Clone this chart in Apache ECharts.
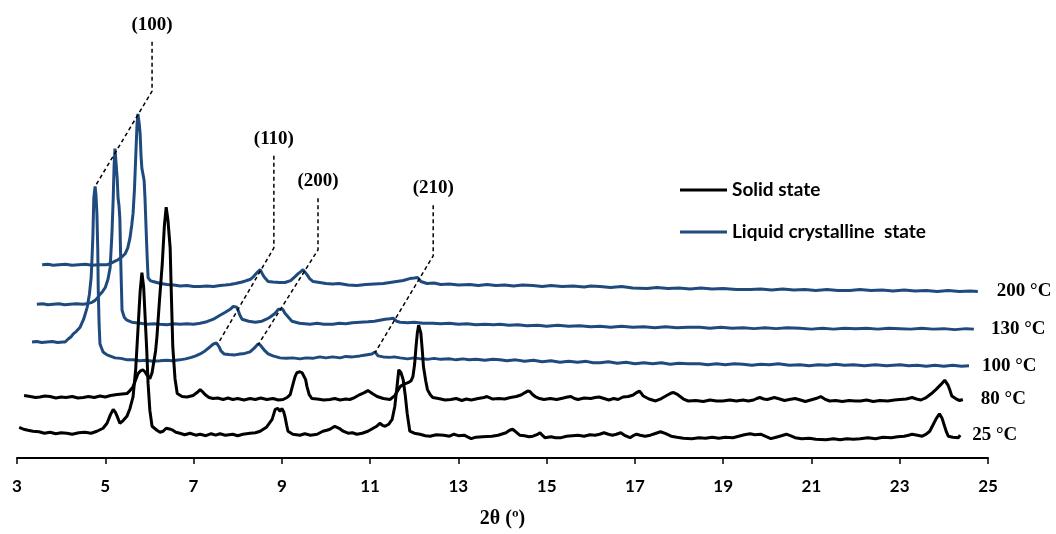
<!DOCTYPE html>
<html>
<head>
<meta charset="utf-8">
<script src="https://cdn.jsdelivr.net/npm/echarts@6/dist/echarts.min.js"></script>
<style>
html,body{margin:0;padding:0;background:#fff;}
#chart{width:1056px;height:534px;}
</style>
</head>
<body>
<div id="chart"></div>
<script>
// 2θ (deg) vs stacked intensity (a.u.)
const xTicks = [3,5,7,9,11,13,15,17,19,21,23,25];
const seriesNames = ['Solid state','Liquid crystalline  state'];
const tempLabels = ['25 °C','80 °C','100 °C','130 °C','200 °C'];

const d25 = [[3.05,31],[3.15,29],[3.25,28],[3.36,27],[3.5,26.5],[3.62,25],[3.75,26],[3.88,24.5],[4.0,25.5],[4.13,25],[4.25,24],[4.4,25.5],[4.54,26],[4.68,25],[4.81,27],[4.95,30],[5.04,35],[5.12,44],[5.18,49],[5.23,46],[5.27,42],[5.33,35],[5.41,38],[5.49,42],[5.56,50],[5.63,62],[5.69,90],[5.74,129],[5.79,168],[5.83,187],[5.87,172],[5.90,145],[5.94,108],[5.97,75],[6.01,48],[6.06,32],[6.17,28],[6.24,26],[6.31,27],[6.38,30],[6.42,31],[6.48,29],[6.53,28],[6.6,26],[6.69,25],[6.8,23.5],[6.92,25],[7.05,23],[7.15,24],[7.28,22.5],[7.4,24.5],[7.5,23],[7.6,24.5],[7.72,23],[7.89,24],[8.0,22.5],[8.12,24],[8.28,25],[8.4,25.5],[8.51,27],[8.65,31],[8.78,39],[8.85,49],[8.91,50],[8.96,47],[9.0,50],[9.04,47],[9.07,42],[9.11,33],[9.14,27],[9.25,24],[9.41,23],[9.52,24.5],[9.65,23],[9.8,24],[9.93,27],[10.02,28],[10.09,29],[10.2,32],[10.3,30],[10.39,27],[10.5,25],[10.6,25.5],[10.7,24],[10.82,25],[10.95,27],[11.07,30],[11.15,32],[11.22,35],[11.28,33],[11.34,32],[11.42,34],[11.5,39],[11.56,52],[11.61,72],[11.65,89],[11.7,86],[11.75,79],[11.8,62],[11.84,45],[11.9,27],[12.0,25],[12.13,24],[12.25,22.5],[12.36,22],[12.5,23.5],[12.67,23],[12.8,22],[12.9,24],[13.0,22.5],[13.13,23],[13.22,21],[13.29,19.5],[13.4,21],[13.55,21.5],[13.76,22],[13.9,23],[14.08,25.5],[14.16,28],[14.23,29],[14.31,26],[14.39,23],[14.5,22.5],[14.6,21.5],[14.69,22],[14.78,23.5],[14.85,25.5],[14.9,23],[14.96,20.5],[15.1,21.5],[15.2,20.5],[15.33,20.5],[15.45,22],[15.58,22.5],[15.71,23],[15.85,22],[15.98,23.5],[16.1,23],[16.2,24],[16.3,25.5],[16.4,24],[16.49,23],[16.58,24],[16.68,25.5],[16.78,22.5],[16.89,20.5],[16.96,22.5],[17.04,24],[17.12,23],[17.23,22],[17.35,23],[17.48,25],[17.58,26.5],[17.7,24.5],[17.82,22],[17.95,21],[18.1,20],[18.29,19.5],[18.45,20.5],[18.6,20],[18.75,21],[18.9,20],[19.05,21],[19.22,20.5],[19.35,22],[19.48,23.5],[19.61,24.5],[19.72,23.5],[19.85,24],[19.95,22],[20.08,19.5],[20.2,21],[20.32,22.5],[20.43,24],[20.52,22.5],[20.63,20.5],[20.78,19.5],[20.95,20],[21.1,19],[21.33,18.5],[21.5,19.5],[21.65,18.5],[21.8,19.5],[21.95,19],[22.1,19.5],[22.28,20.5],[22.45,19.5],[22.62,21],[22.81,20.5],[22.95,21.5],[23.1,22],[23.2,23],[23.28,24],[23.4,23],[23.51,22],[23.6,24],[23.68,27],[23.75,33],[23.83,40],[23.9,44.5],[23.96,40],[24.02,31.5],[24.06,26],[24.1,22],[24.2,21],[24.33,20.5],[24.37,23]];

const d80 = [[3.16,63],[3.3,62],[3.42,61],[3.52,61.5],[3.63,62.5],[3.75,62],[3.88,60.5],[4.0,61.5],[4.11,61],[4.25,62],[4.38,60.5],[4.5,61],[4.62,62],[4.75,61],[4.88,62.5],[5.0,61.5],[5.12,63],[5.27,64],[5.38,64.5],[5.49,65],[5.56,68],[5.63,72],[5.69,79],[5.74,85],[5.8,88],[5.85,89],[5.9,87],[5.94,84],[6.01,80],[6.06,86],[6.1,97],[6.14,108],[6.17,122],[6.23,160],[6.29,195],[6.34,235],[6.38,253],[6.42,240],[6.47,212],[6.5,160],[6.53,112],[6.58,80],[6.63,65],[6.74,62],[6.85,61.5],[6.99,63],[7.08,66],[7.15,69],[7.2,67],[7.26,64],[7.35,61],[7.44,60],[7.55,60.5],[7.67,59],[7.78,60.5],[7.89,59],[8.0,60],[8.14,58.5],[8.28,60],[8.4,59],[8.52,60.5],[8.66,59],[8.8,60],[8.92,58.5],[9.03,59],[9.12,61],[9.19,64],[9.25,74],[9.3,82],[9.34,86],[9.41,87],[9.46,86],[9.5,85],[9.54,79],[9.57,72],[9.62,64],[9.68,60],[9.8,59.5],[9.95,58.5],[10.09,59],[10.2,60],[10.32,58.5],[10.45,59.5],[10.54,59],[10.65,61],[10.77,64],[10.87,66],[10.95,68],[11.05,65],[11.16,62],[11.3,60],[11.45,59],[11.56,63],[11.68,72],[11.77,74.5],[11.86,76],[11.93,78],[11.97,82],[12.01,95],[12.04,112],[12.07,126],[12.1,134],[12.15,126],[12.18,110],[12.21,92],[12.26,78],[12.3,69],[12.36,64],[12.42,61],[12.55,60],[12.7,58.5],[12.83,59],[12.95,60],[13.08,58],[13.18,59.5],[13.29,58.5],[13.45,60],[13.58,61],[13.65,62],[13.78,59.5],[13.92,60],[14.05,59.5],[14.18,61],[14.31,62],[14.42,63.5],[14.51,66],[14.57,67.5],[14.62,67],[14.68,64],[14.74,62],[14.84,60],[14.94,59],[15.08,60],[15.23,59],[15.38,60.5],[15.47,61.5],[15.55,62],[15.63,60],[15.71,59],[15.85,60.5],[16.0,60],[16.1,61],[16.19,61.5],[16.3,60],[16.41,58.5],[16.52,60],[16.62,59],[16.73,61.5],[16.85,62],[16.96,63.5],[17.04,66],[17.1,67.5],[17.15,65],[17.19,62.5],[17.32,59.5],[17.47,57.5],[17.6,60],[17.68,62],[17.74,63.5],[17.82,65.5],[17.88,66],[17.95,64.5],[18.01,62.5],[18.1,59.5],[18.21,57.5],[18.38,58],[18.55,57],[18.7,58.5],[18.85,57.5],[18.99,57.5],[19.15,58.5],[19.3,57.5],[19.45,58.5],[19.57,57.5],[19.69,58.5],[19.76,60],[19.83,61],[19.92,59.5],[20.0,59],[20.08,60],[20.16,61],[20.28,59.5],[20.39,58],[20.5,59],[20.63,60],[20.75,58.5],[20.86,57],[20.98,58.5],[21.1,60],[21.21,62],[21.3,59.5],[21.41,57.5],[21.55,58],[21.7,57],[21.85,58],[22.0,57.5],[22.11,57.5],[22.25,58.5],[22.4,57],[22.55,58],[22.73,57.5],[22.88,58.5],[23.0,59],[23.15,59.5],[23.28,61],[23.38,59.5],[23.48,58.5],[23.6,61],[23.72,65],[23.83,69.5],[23.93,74],[24.02,78.5],[24.1,73],[24.14,68],[24.18,62.5],[24.3,59],[24.36,58],[24.43,59]];

const d100 = [[3.34,117],[3.45,117.5],[3.56,116.5],[3.68,117],[3.8,117.5],[3.92,116.5],[4.04,117],[4.09,117],[4.13,118],[4.16,120],[4.22,122],[4.27,125],[4.35,128],[4.43,132],[4.51,140],[4.59,152],[4.64,165],[4.68,182],[4.7,202],[4.72,225],[4.74,262],[4.77,274],[4.79,265],[4.81,247],[4.83,210],[4.84,172],[4.86,135],[4.88,115],[4.95,107],[5.04,104],[5.13,102.5],[5.22,101],[5.35,100.5],[5.5,99],[5.63,99],[5.78,98],[5.92,98.5],[6.08,97.5],[6.24,98],[6.38,98.5],[6.52,98],[6.69,99],[6.82,100],[6.95,101.5],[7.05,103],[7.15,105],[7.26,108],[7.37,112],[7.45,115],[7.52,116],[7.55,115],[7.58,112],[7.62,108],[7.69,105],[7.8,104.5],[7.94,104],[8.05,105],[8.16,105.5],[8.28,107],[8.38,111],[8.46,115],[8.51,114],[8.55,112],[8.62,108],[8.69,105],[8.8,103],[8.96,101],[9.1,100.5],[9.25,101],[9.41,100],[9.55,101],[9.7,100.5],[9.86,102],[10.0,101],[10.15,102],[10.32,101],[10.45,102.5],[10.6,102],[10.77,103],[10.9,104],[11.04,105],[11.11,107],[11.14,105],[11.18,103],[11.3,102],[11.45,101.5],[11.55,102],[11.68,101],[11.85,100],[12.0,101],[12.15,100],[12.3,99.5],[12.45,100.5],[12.6,99.5],[12.81,100],[12.95,99],[13.1,100],[13.25,99],[13.4,99.5],[13.6,98.5],[13.78,99.5],[13.94,99],[14.1,98],[14.3,99],[14.5,97.5],[14.7,98.5],[14.9,97],[15.1,98],[15.3,96.5],[15.5,97.5],[15.7,96.5],[15.9,97.5],[16.05,96],[16.21,96],[16.4,97],[16.6,95.5],[16.8,96.5],[17.0,95],[17.2,96],[17.4,95],[17.6,96],[17.8,94.5],[18.0,95.5],[18.2,95],[18.47,95],[18.65,94],[18.85,95],[19.05,94],[19.25,95],[19.45,94.5],[19.65,93.5],[19.85,94.5],[20.05,94],[20.25,95],[20.5,93.5],[20.74,94],[20.95,93],[21.15,94],[21.35,93.5],[21.55,94.5],[21.75,93.5],[21.95,94],[22.2,93],[22.45,94],[22.7,93],[23.01,94],[23.2,93],[23.4,93.5],[23.6,92.5],[23.8,93.5],[24.0,92.5],[24.2,93.5],[24.4,92.5],[24.57,93]];

const d130 = [[3.45,155],[3.58,155.5],[3.7,154.5],[3.82,155],[3.95,155.5],[4.08,154.5],[4.2,155],[4.35,155.5],[4.5,155],[4.62,156],[4.7,157],[4.77,159],[4.83,162],[4.88,165],[4.94,168],[5.0,172],[5.06,180],[5.11,192],[5.15,225],[5.18,262],[5.2,295],[5.22,312],[5.24,300],[5.27,282],[5.29,262],[5.31,255],[5.33,242],[5.35,200],[5.36,182],[5.38,149],[5.43,142],[5.49,139],[5.6,137],[5.79,136],[5.95,135],[6.1,135.5],[6.24,135],[6.4,134.5],[6.55,135.5],[6.7,135],[6.85,135.5],[7.0,135],[7.15,136],[7.3,137.5],[7.45,140],[7.6,144],[7.72,147],[7.83,150],[7.9,153],[7.94,154],[7.98,152],[8.01,149],[8.05,144],[8.1,140],[8.25,138],[8.4,137],[8.55,138],[8.65,140],[8.73,142],[8.85,146],[8.92,150],[8.96,152],[9.02,150],[9.07,146],[9.15,142],[9.23,138],[9.4,136],[9.64,135],[9.8,136],[9.95,135],[10.16,135],[10.3,136],[10.45,135.5],[10.6,136.5],[10.77,137],[10.95,137.5],[11.1,138],[11.22,139],[11.34,140],[11.45,140.5],[11.52,141],[11.6,138],[11.68,137],[11.85,136.5],[12.0,137],[12.2,136],[12.43,136],[12.6,135.5],[12.8,136],[13.0,135],[13.2,135.5],[13.4,134.5],[13.6,135],[13.8,134.5],[13.94,135],[14.15,134],[14.35,134.5],[14.55,133.5],[14.8,134],[15.0,133],[15.25,134],[15.5,133],[15.75,133.5],[16.0,132.5],[16.21,133],[16.45,132],[16.7,133],[16.95,132],[17.2,132.5],[17.45,131.5],[17.7,132.5],[17.95,131.5],[18.2,132],[18.47,132],[18.7,131],[18.95,132],[19.2,131],[19.45,131.5],[19.7,130.5],[19.95,131.5],[20.2,130.5],[20.45,131.5],[20.74,131],[21.0,130],[21.25,131],[21.5,130],[21.75,131],[22.0,130.5],[22.25,131],[22.5,130],[22.75,131],[23.01,130.5],[23.25,130],[23.5,131],[23.75,130],[24.0,130.5],[24.25,129.5],[24.5,130.5],[24.68,130]];

const d200 = [[3.57,195],[3.7,195.5],[3.82,194.5],[3.95,195],[4.1,195.5],[4.25,194.5],[4.4,195],[4.55,195.5],[4.7,194.5],[4.85,195],[5.04,195],[5.11,196],[5.2,198],[5.29,200],[5.38,203],[5.45,206],[5.51,212],[5.56,222],[5.6,235],[5.63,247],[5.66,270],[5.68,292],[5.7,315],[5.72,337],[5.74,347],[5.77,337],[5.79,327],[5.81,305],[5.83,292],[5.86,285],[5.88,280],[5.9,262],[5.93,225],[5.95,202],[5.97,182],[6.02,179],[6.08,178],[6.25,176],[6.4,175],[6.55,174.5],[6.7,173.5],[6.85,174],[7.0,173],[7.15,173],[7.3,173.5],[7.45,173],[7.6,174],[7.72,174.5],[7.83,175],[7.95,176],[8.1,177.5],[8.2,179],[8.28,180],[8.36,183],[8.44,187],[8.51,190],[8.54,188],[8.58,184],[8.63,181],[8.69,178],[8.8,177.5],[8.95,177],[9.07,177],[9.2,179],[9.3,183],[9.37,186],[9.43,188],[9.48,190],[9.52,188],[9.57,185],[9.63,181],[9.71,178],[9.86,177],[10.0,176],[10.15,175.5],[10.3,176],[10.5,174.5],[10.7,174],[10.9,175],[11.1,175.5],[11.3,176],[11.45,177],[11.6,178],[11.75,179],[11.9,181],[12.0,181.5],[12.08,182],[12.12,180],[12.15,178],[12.29,176],[12.45,176.5],[12.6,175],[12.8,175.5],[13.0,174.5],[13.26,175],[13.45,174],[13.65,175],[13.85,174],[14.05,174.5],[14.25,173.5],[14.45,174.5],[14.69,174],[14.9,173],[15.1,174],[15.35,173],[15.6,173.5],[15.85,172.5],[16.0,173.5],[16.21,173],[16.45,172],[16.7,173],[16.95,171.5],[17.27,171],[17.5,172],[17.75,171],[18.0,171.5],[18.25,170.5],[18.5,171.5],[18.75,170.5],[19.0,171],[19.3,170],[19.61,170],[19.85,170.5],[20.1,169.5],[20.35,170.5],[20.6,169.5],[20.85,170],[21.1,169],[21.35,170],[21.6,169],[21.87,169],[22.1,170],[22.35,169],[22.6,169.5],[22.85,168.5],[23.1,169.5],[23.35,168.5],[23.6,169],[23.85,168],[24.1,169],[24.35,168],[24.6,168.5],[24.77,168]];

// Miller-index annotations: leader path [top, knee, peak] in (2θ, intensity)
const hklLabels = ['(100)','(110)','(200)','(210)'];
const hklPaths = [
  [[6.06,420],[6.06,370],[4.77,274]],
  [[8.82,305],[8.82,212],[7.55,115]],
  [[9.82,262],[9.82,210],[8.46,114]],
  [[12.43,255],[12.43,204],[11.11,106]]
];

const BLACK = '#000000';
const BLUE = '#1F4A7E';
const serif = 'Liberation Serif';

function curve(name, data, color, label, dist) {
  return {
    type: 'line', name: name, data: data, symbol: 'none', smooth: false,
    lineStyle: { color: color, width: 3 }, itemStyle: { color: color },
    endLabel: { show: true, formatter: label, distance: dist, color: '#000',
      fontFamily: serif, fontWeight: 'bold', fontSize: 19 },
    emphasis: { disabled: true }, z: 2
  };
}

const series = [
  curve(seriesNames[1], d200, BLUE, tempLabels[4], 19),
  curve(seriesNames[1], d130, BLUE, tempLabels[3], 17),
  curve(seriesNames[1], d100, BLUE, tempLabels[2], 13),
  curve(seriesNames[0], d80, BLACK, tempLabels[1], 18),
  curve(seriesNames[0], d25, BLACK, tempLabels[0], 12)
];

hklPaths.forEach(function (p, i) {
  const data = p.map(function (pt, j) {
    if (j === 0) {
      return { value: pt, label: { show: true, position: 'top', distance: 7,
        formatter: hklLabels[i], color: '#000', fontFamily: serif,
        fontWeight: 'bold', fontSize: 19 } };
    }
    return pt;
  });
  series.push({
    type: 'line', data: data, symbol: 'circle', symbolSize: 1, showSymbol: true,
    itemStyle: { color: 'rgba(0,0,0,0)' },
    silent: true, clip: false,
    lineStyle: { color: '#000', width: 1.5, type: [4, 3] }, z: 5,
    emphasis: { disabled: true }
  });
});

const chart = echarts.init(document.getElementById('chart'), null, { renderer: 'canvas' });
chart.setOption({
  animation: false,
  backgroundColor: '#ffffff',
  grid: { left: 17, right: 68, top: 0, bottom: 72, containLabel: false },
  legend: {
    orient: 'vertical', left: 675, top: 173,
    data: seriesNames,
    icon: 'rect', itemWidth: 47, itemHeight: 3, itemGap: 18,
    selectedMode: false,
    textStyle: { fontFamily: 'Lato', fontWeight: 'bold', fontSize: 19, color: '#000', lineHeight: 24 }
  },
  xAxis: {
    type: 'value', min: xTicks[0], max: xTicks[xTicks.length - 1], interval: 2,
    name: '2θ (º)', nameLocation: 'middle', nameGap: 51,
    nameTextStyle: { fontFamily: serif, fontWeight: 'bold', fontSize: 20, color: '#000' },
    axisLine: { show: true, lineStyle: { color: '#000', width: 2 } },
    axisTick: { show: true, length: 6, lineStyle: { color: '#000', width: 1.5 } },
    axisLabel: { margin: 20, fontFamily: 'Lato', fontWeight: 'bold', fontSize: 17, color: '#000' },
    splitLine: { show: false }
  },
  yAxis: { type: 'value', min: 0, max: 462, show: false, splitLine: { show: false } },
  series: series
});
</script>
</body>
</html>
